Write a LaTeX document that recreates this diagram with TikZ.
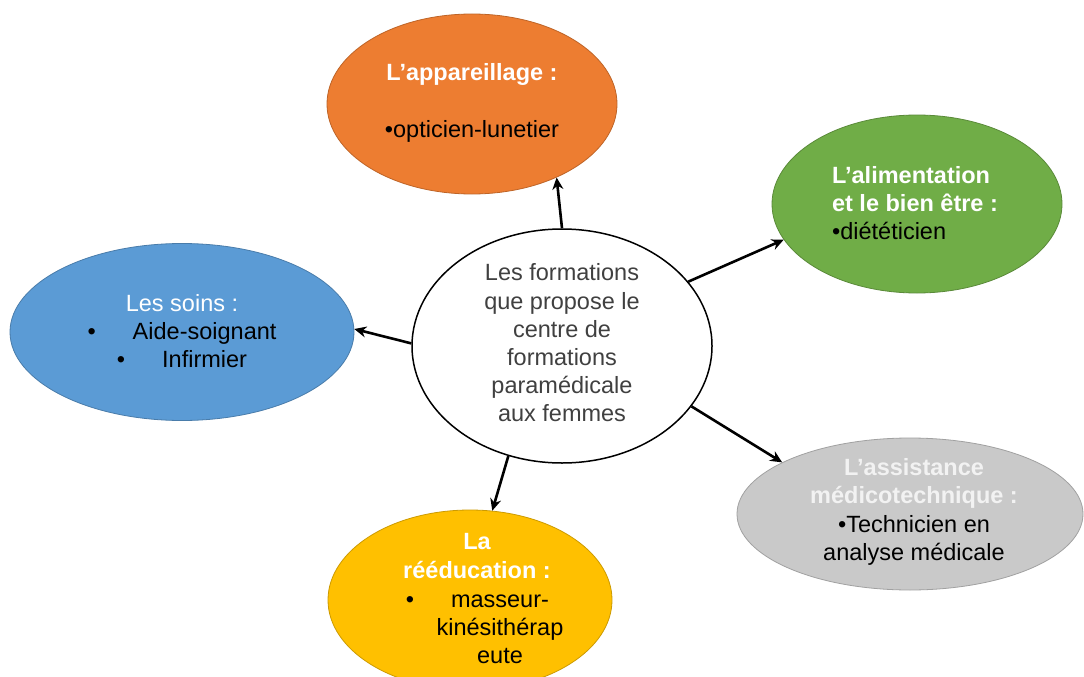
\documentclass[tikz,border=0pt]{standalone}
\usepackage{fontspec}
\setmainfont{Liberation Sans}
\usetikzlibrary{shapes.geometric,arrows.meta}
\definecolor{orangeF}{HTML}{ED7D31}
\definecolor{greenF}{HTML}{70AD47}
\definecolor{blueF}{HTML}{5B9BD5}
\definecolor{greyF}{HTML}{C9C9C9}
\definecolor{yellowF}{HTML}{FFC000}
\definecolor{darktext}{HTML}{404040}
\begin{document}
\begin{tikzpicture}[x=1pt,y=-1pt,
  blob/.style={ellipse, inner sep=0pt, draw=#1!80!black, line width=0.8pt, fill=#1},
  txt/.style={align=center, font=\fontsize{23.5}{28.2}\selectfont, inner sep=0pt},
  arr/.style={-{Stealth[length=12pt,width=11pt]}, line width=2.6pt}]
\useasboundingbox[fill=white] (0,0) rectangle (1084,677);
% shapes
\node[blob=orangeF, minimum width=290pt, minimum height=180pt] (o) at (472,104) {};
\node[blob=greenF, minimum width=290pt, minimum height=178pt] (g) at (917,204) {};
\node[blob=blueF, minimum width=344pt, minimum height=177pt] (b) at (182,332) {};
\node[blob=greyF, minimum width=346pt, minimum height=152pt] (s) at (910,514) {};
\node[blob=yellowF, minimum width=284pt, minimum height=180pt] (y) at (470,600) {};
\node[ellipse, draw=black, line width=1.5pt, fill=white, inner sep=0pt,
      minimum width=300pt, minimum height=234pt] (c) at (562,346) {};
% texts
\node[txt] (ot) at (472,103) {{\bfseries\color{white}L’appareillage :}\\[28.2pt]•opticien-lunetier};
\node[txt, align=left] (gt) at (915,203) {{\bfseries\color{white}L’alimentation}\\{\bfseries\color{white}et le bien être :}\\•diététicien};
\node[txt] (bt) at (182,331) {{\color{white}Les soins :}\\•\hspace{37pt}Aide-soignant\\•\hspace{37pt}Infirmier};
\node[txt] (st) at (914,512) {{\bfseries\color{white!95!black}L’assistance}\\{\bfseries\color{white!95!black}médicotechnique :}\\•Technicien en\\analyse médicale};
\node[txt] (yt) at (477,556) {{\bfseries\color{white}La}\\{\bfseries\color{white}rééducation :}};
\node[txt] (yi) at (500,629) {\llap{•\hspace{37pt}}masseur-\\kinésithérap\\eute};
\node[txt, text=darktext] (ct) at (562,343) {Les formations\\que propose le\\centre de\\formations\\paramédicale\\aux femmes};
% arrows
\draw[arr] (c.90) -- (o.-41);
\draw[arr] (c.27) -- (g.195);
\draw[arr] (c.179) -- (b.1);
\draw[arr] (c.-25) -- (s.158);
\draw[arr] (c.-116) -- (y.76);
\end{tikzpicture}
\end{document}
